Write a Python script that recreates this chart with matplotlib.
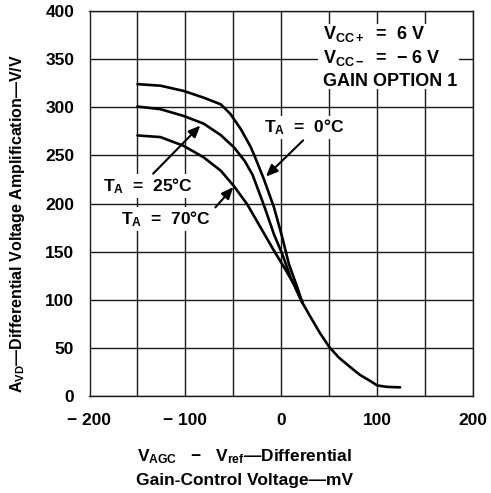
import matplotlib
matplotlib.use('Agg')
import matplotlib.pyplot as plt
from matplotlib.ticker import MultipleLocator
from matplotlib.patches import Rectangle

plt.rcParams['font.family'] = ['Liberation Sans', 'DejaVu Sans']
plt.rcParams['font.weight'] = 'bold'
plt.rcParams['mathtext.fontset'] = 'custom'
plt.rcParams['mathtext.rm'] = 'Liberation Sans:bold'
plt.rcParams['mathtext.bf'] = 'Liberation Sans:bold'
plt.rcParams['mathtext.it'] = 'Liberation Sans:bold'
plt.rcParams['mathtext.default'] = 'rm'

# ---- data ----
x_0C = [-150, -126, -102, -81, -63, -53, -42, -32, -28.5, -18, -7.6, 1, 8, 16.7, 22]
y_0C = [324, 322.4, 317, 310, 303, 293, 277, 259, 251, 225, 196, 165, 137, 113, 97]

x_25C = [-150, -126, -102, -81, -63, -49, -38, -30, -18, -7.6, 1, 9.7, 22]
y_25C = [300.7, 298, 291, 283, 271, 258, 244, 230, 198, 168, 147.6, 123.4, 97]

x_70C = [-150, -126, -102, -81, -63, -49.3, -35.4, -21.5, -7.6, 2.8, 13, 22]
y_70C = [270.7, 269, 260, 248, 234, 218, 199, 175, 151, 134, 116.5, 97]

x_tail = [22, 30, 40, 50, 60, 72, 82, 93, 100, 110, 124]
y_tail = [97, 83, 66, 51, 40, 30, 22, 15.5, 11, 9.5, 9]

x_ticks = [-200, -100, 0, 100, 200]
x_tick_labels = ['\u2212 200', '\u2212 100', '0', '100', '200']
y_ticks = [0, 50, 100, 150, 200, 250, 300, 350, 400]
y_tick_labels = ['0', '50', '100', '150', '200', '250', '300', '350', '400']

W, H = 491, 493
fig = plt.figure(figsize=(W / 100, H / 100), dpi=100)
left, right, top, bottom = 89.5, 473, 11, 396
ax = fig.add_axes([left / W, 1 - bottom / H, (right - left) / W, (bottom - top) / H])
ax.set_xlim(-200, 200)
ax.set_ylim(0, 400)
ax.set_xticks(x_ticks)
ax.set_xticklabels(x_tick_labels)
ax.xaxis.set_minor_locator(MultipleLocator(50))
ax.set_yticks(y_ticks)
ax.set_yticklabels(y_tick_labels)
ax.grid(which='both', color='#1a1a1a', lw=1.0)
ax.tick_params(which='both', length=0, labelsize=12.5)
ax.tick_params(axis='y', pad=11)
ax.tick_params(axis='x', pad=12)
for s in ax.spines.values():
    s.set_linewidth(1.0)
    s.set_color('#1a1a1a')

lw = 1.9
ax.plot(x_0C, y_0C, color='black', lw=lw, zorder=3, solid_capstyle='round')
ax.plot(x_25C, y_25C, color='black', lw=lw, zorder=3, solid_capstyle='round')
ax.plot(x_70C, y_70C, color='black', lw=lw, zorder=3, solid_capstyle='round')
ax.plot(x_tail, y_tail, color='black', lw=lw, zorder=3, solid_capstyle='round')

bb = dict(facecolor='white', edgecolor='none', pad=1.5)
fs = 12.5
arrow = dict(arrowstyle='-|>,head_length=0.7,head_width=0.3', lw=1.5, color='black',
             shrinkA=0, shrinkB=0)

ax.text(24, 279, 'T$_{\\mathrm{A}}$  =  0\u00b0C', ha='center', va='center', fontsize=fs,
        bbox=bb, zorder=4)
ax.text(-139, 218, 'T$_{\\mathrm{A}}$  =  25\u00b0C', ha='center', va='center', fontsize=fs,
        bbox=bb, zorder=4)
ax.text(-120, 184, 'T$_{\\mathrm{A}}$  =  70\u00b0C', ha='center', va='center', fontsize=fs,
        bbox=bb, zorder=4)

ax.annotate('', xy=(-84.4, 281), xytext=(-133.6, 231), arrowprops=arrow, zorder=5)
ax.annotate('', xy=(-50, 217), xytext=(-68.7, 196), arrowprops=arrow, zorder=5)
ax.annotate('', xy=(-16, 228), xytext=(22.8, 265.6), arrowprops=arrow, zorder=5)

ax.add_patch(Rectangle((38, 318.6), 147.4, 68, facecolor='white', edgecolor='none', zorder=2.5))
ax.text(44, 376, 'V$_{\\mathrm{CC+}}$  =  6 V', ha='left', va='center', fontsize=13,
        zorder=4)
ax.text(44, 351, 'V$_{\\mathrm{CC-}}$  =  \u2212 6 V', ha='left', va='center', fontsize=13,
        zorder=4)
ax.text(44, 327, 'GAIN OPTION 1', ha='left', va='center', fontsize=13,
        zorder=4)

fig.text(18 / W, 1 - 224 / H,
         'A$_{\\mathrm{VD}}$\u2014Differential Voltage Amplification\u2014V/V',
         rotation=90, ha='center', va='center', fontsize=11.5)
fig.text(245 / W, 1 - 457 / H, 'V$_{\\mathrm{AGC}}$   \u2212   V$_{\\mathrm{ref}}$\u2014Differential',
         ha='center', va='center', fontsize=12.5)
fig.text(245 / W, 1 - 481 / H, 'Gain-Control Voltage\u2014mV',
         ha='center', va='center', fontsize=12.5)

fig.savefig('out.png', dpi=100)
